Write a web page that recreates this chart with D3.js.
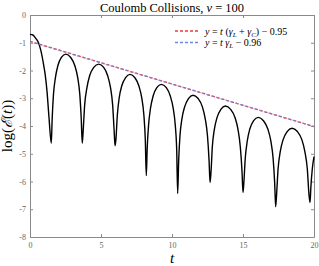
<!DOCTYPE html>
<html>
<head>
<meta charset="utf-8">
<script src="https://cdn.jsdelivr.net/npm/d3@7"></script>
<style>
    body { margin: 0; background: #fff; }
    svg text { font-family: "Liberation Serif", "DejaVu Serif", serif; }
    .tick text { fill: #666; font-size: 8px; }
    .tick line, .domain { stroke: #8a8a8a; }
</style>
</head>
<body>
<svg id="chart" width="319" height="266"></svg>
<script>
// log energy, arch by arch
const tVals = [
    0, 0.2, 0.4, 0.56, 0.75, 0.92, 1.07, 1.2, 1.34, 1.50,
    1.56, 1.65, 1.79, 1.96, 2.21, 2.52, 2.87, 3.16, 3.36, 3.51, 3.61, 3.68,
    3.75, 3.85, 4.01, 4.20, 4.49, 4.84, 5.19, 5.47, 5.67, 5.82, 5.92, 5.99,
    6.05, 6.15, 6.28, 6.46, 6.73, 7.04, 7.39, 7.67, 7.87, 8.02, 8.12, 8.19,
    8.25, 8.35, 8.49, 8.67, 8.93, 9.25, 9.60, 9.88, 10.08, 10.23, 10.33, 10.40,
    10.47, 10.56, 10.70, 10.89, 11.16, 11.48, 11.84, 12.14, 12.34, 12.50, 12.61, 12.68,
    12.75, 12.84, 12.98, 13.17, 13.44, 13.76, 14.13, 14.44, 14.65, 14.81, 14.93, 15.00,
    15.06, 15.16, 15.30, 15.48, 15.75, 16.07, 16.44, 16.75, 16.96, 17.12, 17.23, 17.30,
    17.37, 17.47, 17.62, 17.82, 18.11, 18.45, 18.83, 19.15, 19.36, 19.53, 19.64, 19.72,
    19.78, 19.88, 20
];
const logE = [
    -0.70, -0.72, -0.84, -0.96, -1.25, -1.68, -2.15, -2.76, -3.71, -4.62,
    -3.76, -2.88, -2.26, -1.83, -1.53, -1.41, -1.53, -1.83, -2.26, -2.88, -3.76, -4.62,
    -4.12, -3.24, -2.62, -2.19, -1.89, -1.77, -1.89, -2.19, -2.62, -3.24, -4.12, -4.71,
    -4.49, -3.61, -2.99, -2.56, -2.26, -2.14, -2.26, -2.56, -2.99, -3.61, -4.49, -5.79,
    -4.85, -3.97, -3.35, -2.92, -2.62, -2.50, -2.62, -2.92, -3.35, -3.97, -4.85, -6.43,
    -5.24, -4.36, -3.74, -3.31, -3.01, -2.89, -3.01, -3.31, -3.74, -4.36, -5.24, -6.04,
    -5.63, -4.75, -4.13, -3.70, -3.40, -3.28, -3.40, -3.70, -4.13, -4.75, -5.63, -6.40,
    -6.04, -5.16, -4.54, -4.11, -3.81, -3.69, -3.81, -4.11, -4.54, -5.16, -6.04, -6.91,
    -6.43, -5.55, -4.93, -4.50, -4.20, -4.08, -4.20, -4.50, -4.93, -5.55, -6.43, -6.76,
    -6.2, -5.55, -5.1
];

// fitted growth-rate lines (end points)
const fitT = [0, 20];
const fitLC = [-0.95, -4.02];  // t(gL + gC) - 0.95
const fitL = [-0.96, -4.02];   // t gL - 0.96

const xTicks = [0, 5, 10, 15, 20];
const yTicks = [0, -1, -2, -3, -4, -5, -6, -7, -8];

const svg = d3.select('#chart');
const mLeft = 30, mRight = 314, mTop = 15, mBottom = 237;

const x = d3.scaleLinear().domain([0, 20]).range([mLeft, mRight]);
const y = d3.scaleLinear().domain([-8, 0]).range([mBottom, mTop]);

// axes box, ticks pointing in
svg.append('g').attr('transform', `translate(0,${mBottom})`)
    .call(d3.axisBottom(x).tickValues(xTicks).tickSize(-3).tickSizeOuter(0).tickPadding(5).tickFormat(d => String(d)));
svg.append('g').attr('transform', `translate(${mLeft},0)`)
    .call(d3.axisLeft(y).tickValues(yTicks).tickSize(-3).tickSizeOuter(0).tickPadding(4).tickFormat(d => String(d)));
svg.append('g').attr('transform', `translate(0,${mTop})`)
    .call(d3.axisTop(x).tickValues(xTicks).tickSize(-3).tickSizeOuter(0).tickFormat(''));
svg.append('g').attr('transform', `translate(${mRight},0)`)
    .call(d3.axisRight(y).tickValues(yTicks).tickSize(-3).tickSizeOuter(0).tickFormat(''));

// curve
const line = d3.line()
    .x(d => x(d[0]))
    .y(d => y(d[1]))
    .curve(d3.curveMonotoneX);

svg.append('path')
    .datum(tVals.map((t, i) => [t, logE[i]]))
    .attr('d', line)
    .attr('fill', 'none')
    .attr('stroke', '#000')
    .attr('stroke-width', 1.4);

const fitLine = d3.line().x(d => x(d[0])).y(d => y(d[1]));
svg.append('path')
    .datum(fitT.map((t, i) => [t, fitLC[i]]))
    .attr('d', fitLine)
    .attr('fill', 'none')
    .attr('stroke', '#ee3b3b')
    .attr('stroke-width', 1.3)
    .attr('stroke-dasharray', '3,2');
svg.append('path')
    .datum(fitT.map((t, i) => [t, fitL[i]]))
    .attr('d', fitLine)
    .attr('fill', 'none')
    .attr('stroke', '#6f86e0')
    .attr('stroke-width', 1.3)
    .attr('stroke-opacity', 0.75)
    .attr('stroke-dasharray', '3,2')
    .attr('stroke-dashoffset', 1);

// legend
const legend = svg.append('g').attr('font-size', 10);
[['#ee3b3b', 31], ['#6f86e0', 42.5]].forEach(([c, ly]) => {
    legend.append('line')
        .attr('x1', 175).attr('x2', 200).attr('y1', ly).attr('y2', ly)
        .attr('stroke', c).attr('stroke-width', 1.3).attr('stroke-dasharray', '3,2');
});
const l1 = legend.append('text').attr('x', 205).attr('y', 34.5);
l1.append('tspan').attr('font-style', 'italic').text('y');
l1.append('tspan').text(' = ');
l1.append('tspan').attr('font-style', 'italic').text('t');
l1.append('tspan').text(' (');
l1.append('tspan').attr('font-style', 'italic').text('γ');
l1.append('tspan').attr('font-style', 'italic').attr('font-size', 7).attr('dy', 2).text('L');
l1.append('tspan').attr('dy', -2).text(' + ');
l1.append('tspan').attr('font-style', 'italic').text('γ');
l1.append('tspan').attr('font-style', 'italic').attr('font-size', 7).attr('dy', 2).text('C');
l1.append('tspan').attr('dy', -2).text(') − 0.95');

const l2 = legend.append('text').attr('x', 205).attr('y', 46);
l2.append('tspan').attr('font-style', 'italic').text('y');
l2.append('tspan').text(' = ');
l2.append('tspan').attr('font-style', 'italic').text('t γ');
l2.append('tspan').attr('font-style', 'italic').attr('font-size', 7).attr('dy', 2).text('L');
l2.append('tspan').attr('dy', -2).text(' − 0.96');

// title and labels
const title = svg.append('text')
    .attr('x', (mLeft + mRight) / 2).attr('y', 11.5)
    .attr('text-anchor', 'middle').attr('font-size', 12.5);
title.append('tspan').text('Coulomb Collisions, ');
title.append('tspan').attr('font-style', 'italic').text('ν');
title.append('tspan').text(' = 100');

svg.append('text')
    .attr('x', (mLeft + mRight) / 2).attr('y', 263)
    .attr('text-anchor', 'middle').attr('font-size', 15)
    .attr('font-style', 'italic').text('t');

const ylab = svg.append('text')
    .attr('transform', `translate(12,${(mTop + mBottom) / 2}) rotate(-90)`)
    .attr('text-anchor', 'middle').attr('font-size', 15);
ylab.append('tspan').text('log(');
ylab.append('tspan').attr('font-style', 'italic').text('ℰ');
ylab.append('tspan').text('(');
ylab.append('tspan').attr('font-style', 'italic').text('t');
ylab.append('tspan').text('))');
</script>
</body>
</html>
